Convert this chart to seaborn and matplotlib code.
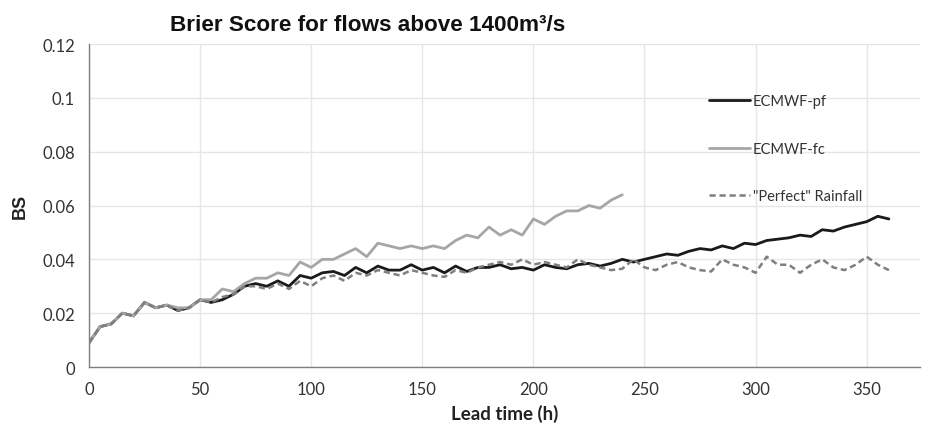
import matplotlib
matplotlib.use("Agg")
import matplotlib.pyplot as plt
import seaborn as sns
import numpy as np

# lead times (h), one reading every 5 hours
hours = list(range(0, 365, 5))
hours_fc = list(range(0, 245, 5))

# ECMWF-pf (black)
bs_pf = [0.009, 0.015, 0.016, 0.020, 0.019, 0.024, 0.022, 0.023, 0.021, 0.022,
         0.025, 0.024, 0.025, 0.027, 0.030, 0.031, 0.030, 0.032, 0.030, 0.034,
         0.033, 0.035, 0.0355, 0.034, 0.037, 0.035, 0.0375, 0.036, 0.036, 0.038,
         0.036, 0.037, 0.035, 0.0375, 0.0355, 0.037, 0.037, 0.038, 0.0365, 0.037,
         0.036, 0.038, 0.037, 0.0365, 0.038, 0.0385, 0.0375, 0.0385, 0.040, 0.039,
         0.040, 0.041, 0.042, 0.0415, 0.043, 0.044, 0.0435, 0.045, 0.044, 0.046,
         0.0455, 0.047, 0.0475, 0.048, 0.049, 0.0485, 0.051, 0.0505, 0.052, 0.053,
         0.054, 0.056, 0.055]

# ECMWF-fc (light grey), stops at 240 h
bs_fc = [0.009, 0.015, 0.016, 0.020, 0.019, 0.024, 0.022, 0.023, 0.022, 0.022,
         0.025, 0.025, 0.029, 0.028, 0.031, 0.033, 0.033, 0.035, 0.034, 0.039,
         0.037, 0.040, 0.040, 0.042, 0.044, 0.041, 0.046, 0.045, 0.044, 0.045,
         0.044, 0.045, 0.044, 0.047, 0.049, 0.048, 0.052, 0.049, 0.051, 0.049,
         0.055, 0.053, 0.056, 0.058, 0.058, 0.060, 0.059, 0.062, 0.064]

# "Perfect" rainfall (dashed grey)
bs_perfect = [0.009, 0.015, 0.016, 0.020, 0.019, 0.024, 0.022, 0.023, 0.021, 0.022,
              0.025, 0.024, 0.026, 0.027, 0.030, 0.030, 0.029, 0.031, 0.029, 0.032,
              0.030, 0.033, 0.034, 0.032, 0.035, 0.034, 0.036, 0.035, 0.034, 0.036,
              0.035, 0.034, 0.0335, 0.036, 0.035, 0.037, 0.038, 0.039, 0.038, 0.040,
              0.038, 0.039, 0.038, 0.037, 0.040, 0.038, 0.037, 0.036, 0.0365, 0.040,
              0.037, 0.036, 0.038, 0.039, 0.037, 0.036, 0.0355, 0.040, 0.038, 0.037,
              0.035, 0.041, 0.038, 0.038, 0.035, 0.038, 0.040, 0.037, 0.036, 0.038,
              0.041, 0.038, 0.036]

sns.set_style("white")
plt.rcParams['font.family'] = ['Lato', 'DejaVu Sans']

fig = plt.figure(figsize=(9.31, 4.35), dpi=100)
ax = fig.add_axes([0.0956, 0.154, 0.8926, 0.7425])

sns.lineplot(x=hours, y=bs_pf, ax=ax, color='#1a1a1a', linewidth=2.0, label='ECMWF-pf')
sns.lineplot(x=hours_fc, y=bs_fc, ax=ax, color='#a6a6a6', linewidth=2.0, label='ECMWF-fc')
sns.lineplot(x=hours, y=bs_perfect, ax=ax, color='#7f7f7f', linewidth=1.8,
             linestyle=(0, (2.5, 1.5)), label='"Perfect" Rainfall')

ax.set_xlim(0, 374)
ax.set_ylim(0, 0.12)
ax.set_xticks(np.arange(0, 351, 50))
ax.set_yticks(np.arange(0, 0.121, 0.02))
ax.set_yticklabels(['0', '0.02', '0.04', '0.06', '0.08', '0.1', '0.12'])
ax.grid(True, color='#e6e6e6', linewidth=1)
ax.set_axisbelow(True)

for s in ['top', 'right']:
    ax.spines[s].set_visible(False)
for s in ['left', 'bottom']:
    ax.spines[s].set_color('#7f7f7f')
    ax.spines[s].set_linewidth(1)
ax.tick_params(axis='both', which='both', direction='out', length=4, width=1,
               color='#7f7f7f', labelsize=12, labelcolor='#333333', pad=6)

ax.set_xlabel('Lead time (h)', fontsize=13.5, fontweight='bold', color='#222222', labelpad=5)
ax.set_ylabel('BS', fontsize=13, fontweight='bold', color='#222222', labelpad=10,
              family=['Liberation Sans', 'DejaVu Sans'])

leg = ax.legend(loc='upper left', bbox_to_anchor=(0.73, 0.885), frameon=False,
                fontsize=10.5, handlelength=2.8, handletextpad=0.2, labelspacing=2.3)
for t in leg.get_texts():
    t.set_color('#333333')

fig.text(0.395, 0.942, 'Brier Score for flows above 1400m³/s', ha='center', va='center',
         fontsize=16.2, fontweight='bold', color='#111111',
         family=['Liberation Sans', 'DejaVu Sans'])

fig.savefig('out.png', dpi=100)
